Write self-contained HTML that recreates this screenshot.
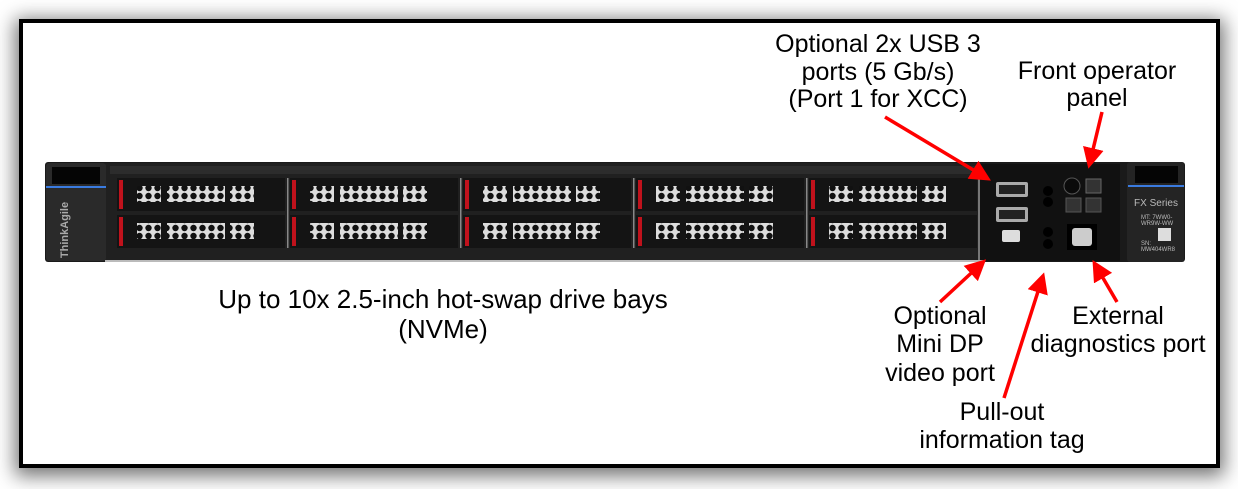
<!DOCTYPE html>
<html><head><style>
html,body{margin:0;padding:0;background:#fff;}
body{width:1238px;height:489px;position:relative;overflow:hidden;font-family:"Liberation Sans",sans-serif;}
.frame{position:absolute;left:19px;top:19px;width:1193px;height:441px;border:4px solid #000;background:#fff;box-shadow:0 4px 18px 4px rgba(0,0,0,.55);}
svg{position:absolute;left:0;top:0;}
</style></head><body>
<div class="frame"></div>
<svg width="1238" height="489" viewBox="0 0 1238 489">
<defs>
<pattern id="hex" width="9" height="8" patternUnits="userSpaceOnUse">
<rect width="9" height="8" fill="#ddd"/>
<circle cx="4.5" cy="4" r="3.2" fill="#111"/>
</pattern>
<marker id="ah" markerWidth="6" markerHeight="6" refX="4" refY="3" orient="auto" markerUnits="strokeWidth">
<path d="M0,0 L6,3 L0,6 z" fill="#f00"/>
</marker>
</defs>
<rect x="45" y="162" width="1140" height="100" rx="3" fill="#1a1a1a"/>
<rect x="105" y="163" width="875" height="98" fill="#202020"/>
<rect x="46" y="163" width="60" height="98" rx="3" fill="#2a2a2a"/>
<rect x="52" y="167" width="48" height="17" fill="#050505"/>
<rect x="46" y="186" width="60" height="2" fill="#3a7be0"/>
<text x="68" y="230" transform="rotate(-90 68 230)" font-size="11" fill="#aaa" text-anchor="middle" font-weight="bold">ThinkAgile</text>
<rect x="110" y="166" width="865" height="8" fill="#2c2c2c"/>
<g fill="#141414">
<rect x="117" y="178" width="168" height="33"/><rect x="117" y="215" width="168" height="33"/>
<rect x="290" y="178" width="168" height="33"/><rect x="290" y="215" width="168" height="33"/>
<rect x="463" y="178" width="168" height="33"/><rect x="463" y="215" width="168" height="33"/>
<rect x="636" y="178" width="168" height="33"/><rect x="636" y="215" width="168" height="33"/>
<rect x="809" y="178" width="168" height="33"/><rect x="809" y="215" width="168" height="33"/>
</g>
<g fill="#c0121c">
<rect x="119" y="180" width="4" height="29"/><rect x="119" y="217" width="4" height="29"/>
<rect x="292" y="180" width="4" height="29"/><rect x="292" y="217" width="4" height="29"/>
<rect x="465" y="180" width="4" height="29"/><rect x="465" y="217" width="4" height="29"/>
<rect x="638" y="180" width="4" height="29"/><rect x="638" y="217" width="4" height="29"/>
<rect x="811" y="180" width="4" height="29"/><rect x="811" y="217" width="4" height="29"/>
</g>
<g fill="url(#hex)">
<rect x="137" y="186" width="24" height="16"/><rect x="167" y="186" width="58" height="16"/><rect x="230" y="186" width="24" height="16"/>
<rect x="137" y="223" width="24" height="16"/><rect x="167" y="223" width="58" height="16"/><rect x="230" y="223" width="24" height="16"/>
<rect x="310" y="186" width="24" height="16"/><rect x="340" y="186" width="58" height="16"/><rect x="403" y="186" width="24" height="16"/>
<rect x="310" y="223" width="24" height="16"/><rect x="340" y="223" width="58" height="16"/><rect x="403" y="223" width="24" height="16"/>
<rect x="483" y="186" width="24" height="16"/><rect x="513" y="186" width="58" height="16"/><rect x="576" y="186" width="24" height="16"/>
<rect x="483" y="223" width="24" height="16"/><rect x="513" y="223" width="58" height="16"/><rect x="576" y="223" width="24" height="16"/>
<rect x="656" y="186" width="24" height="16"/><rect x="686" y="186" width="58" height="16"/><rect x="749" y="186" width="24" height="16"/>
<rect x="656" y="223" width="24" height="16"/><rect x="686" y="223" width="58" height="16"/><rect x="749" y="223" width="24" height="16"/>
<rect x="829" y="186" width="24" height="16"/><rect x="859" y="186" width="58" height="16"/><rect x="922" y="186" width="24" height="16"/>
<rect x="829" y="223" width="24" height="16"/><rect x="859" y="223" width="58" height="16"/><rect x="922" y="223" width="24" height="16"/>
</g>
<g fill="#888"><rect x="287" y="178" width="1.5" height="70"/><rect x="460" y="178" width="1.5" height="70"/><rect x="633" y="178" width="1.5" height="70"/><rect x="806" y="178" width="1.5" height="70"/></g>
<rect x="980" y="164" width="140" height="97" fill="#111"/>
<rect x="978" y="164" width="2" height="97" fill="#777"/>
<rect x="996" y="182" width="32" height="15" rx="2" fill="#aaa"/><rect x="999" y="185" width="26" height="9" fill="#222"/>
<rect x="996" y="207" width="32" height="15" rx="2" fill="#aaa"/><rect x="999" y="210" width="26" height="9" fill="#222"/>
<rect x="1002" y="230" width="18" height="12" rx="2" fill="#ddd"/>
<circle cx="1048" cy="191" r="5" fill="#000"/><circle cx="1048" cy="202" r="5" fill="#000"/>
<circle cx="1048" cy="232" r="5" fill="#000"/><circle cx="1048" cy="244" r="5" fill="#000"/>
<circle cx="1072" cy="186" r="8" fill="#0a0a0a" stroke="#555"/>
<rect x="1086" y="179" width="15" height="14" fill="#333" stroke="#666"/>
<rect x="1066" y="198" width="15" height="14" fill="#333" stroke="#555"/>
<rect x="1086" y="198" width="15" height="14" fill="#333" stroke="#555"/>
<rect x="1067" y="224" width="30" height="26" fill="#000"/>
<rect x="1072" y="228" width="20" height="18" rx="3" fill="#ccc"/>
<rect x="1127" y="162" width="57" height="100" rx="3" fill="#242424"/>
<rect x="1135" y="166" width="43" height="17" fill="#050505"/>
<rect x="1128" y="185" width="56" height="2" fill="#3a7be0"/>
<text x="1156" y="206" font-size="10" fill="#bbb" text-anchor="middle">FX Series</text>
<text x="1141" y="219" font-size="6" fill="#bbb">MT: 7WW0-</text>
<text x="1141" y="225" font-size="6" fill="#bbb">WR9W-WW</text>
<rect x="1158" y="228" width="13" height="13" fill="#ddd"/>
<text x="1141" y="245" font-size="6" fill="#bbb">SN:</text>
<text x="1141" y="251" font-size="6" fill="#bbb">MW404WR8</text>
<rect x="105" y="260" width="880" height="2" fill="#bbb"/>
<g stroke="#f00" stroke-width="3.5" fill="none" marker-end="url(#ah)">
<line x1="885" y1="117" x2="985" y2="177"/>
<line x1="1102" y1="112" x2="1090" y2="162"/>
<line x1="940" y1="302" x2="981" y2="264"/>
<line x1="1004" y1="398" x2="1042" y2="279"/>
<line x1="1117" y1="302" x2="1096" y2="266"/>
</g>
<g font-size="25" fill="#000" text-anchor="middle">
<text x="878" y="52">Optional 2x USB 3</text>
<text x="878" y="80">ports (5 Gb/s)</text>
<text x="878" y="107">(Port 1 for XCC)</text>
<text x="1097" y="79">Front operator</text>
<text x="1097" y="106">panel</text>
<text x="443" y="308" font-size="26">Up to 10x 2.5-inch hot-swap drive bays</text>
<text x="443" y="338" font-size="26">(NVMe)</text>
<text x="940" y="324">Optional</text>
<text x="940" y="352">Mini DP</text>
<text x="940" y="381">video port</text>
<text x="1118" y="324">External</text>
<text x="1118" y="352">diagnostics port</text>
<text x="1002" y="420">Pull-out</text>
<text x="1002" y="448">information tag</text>
</g>
</svg>
</body></html>
